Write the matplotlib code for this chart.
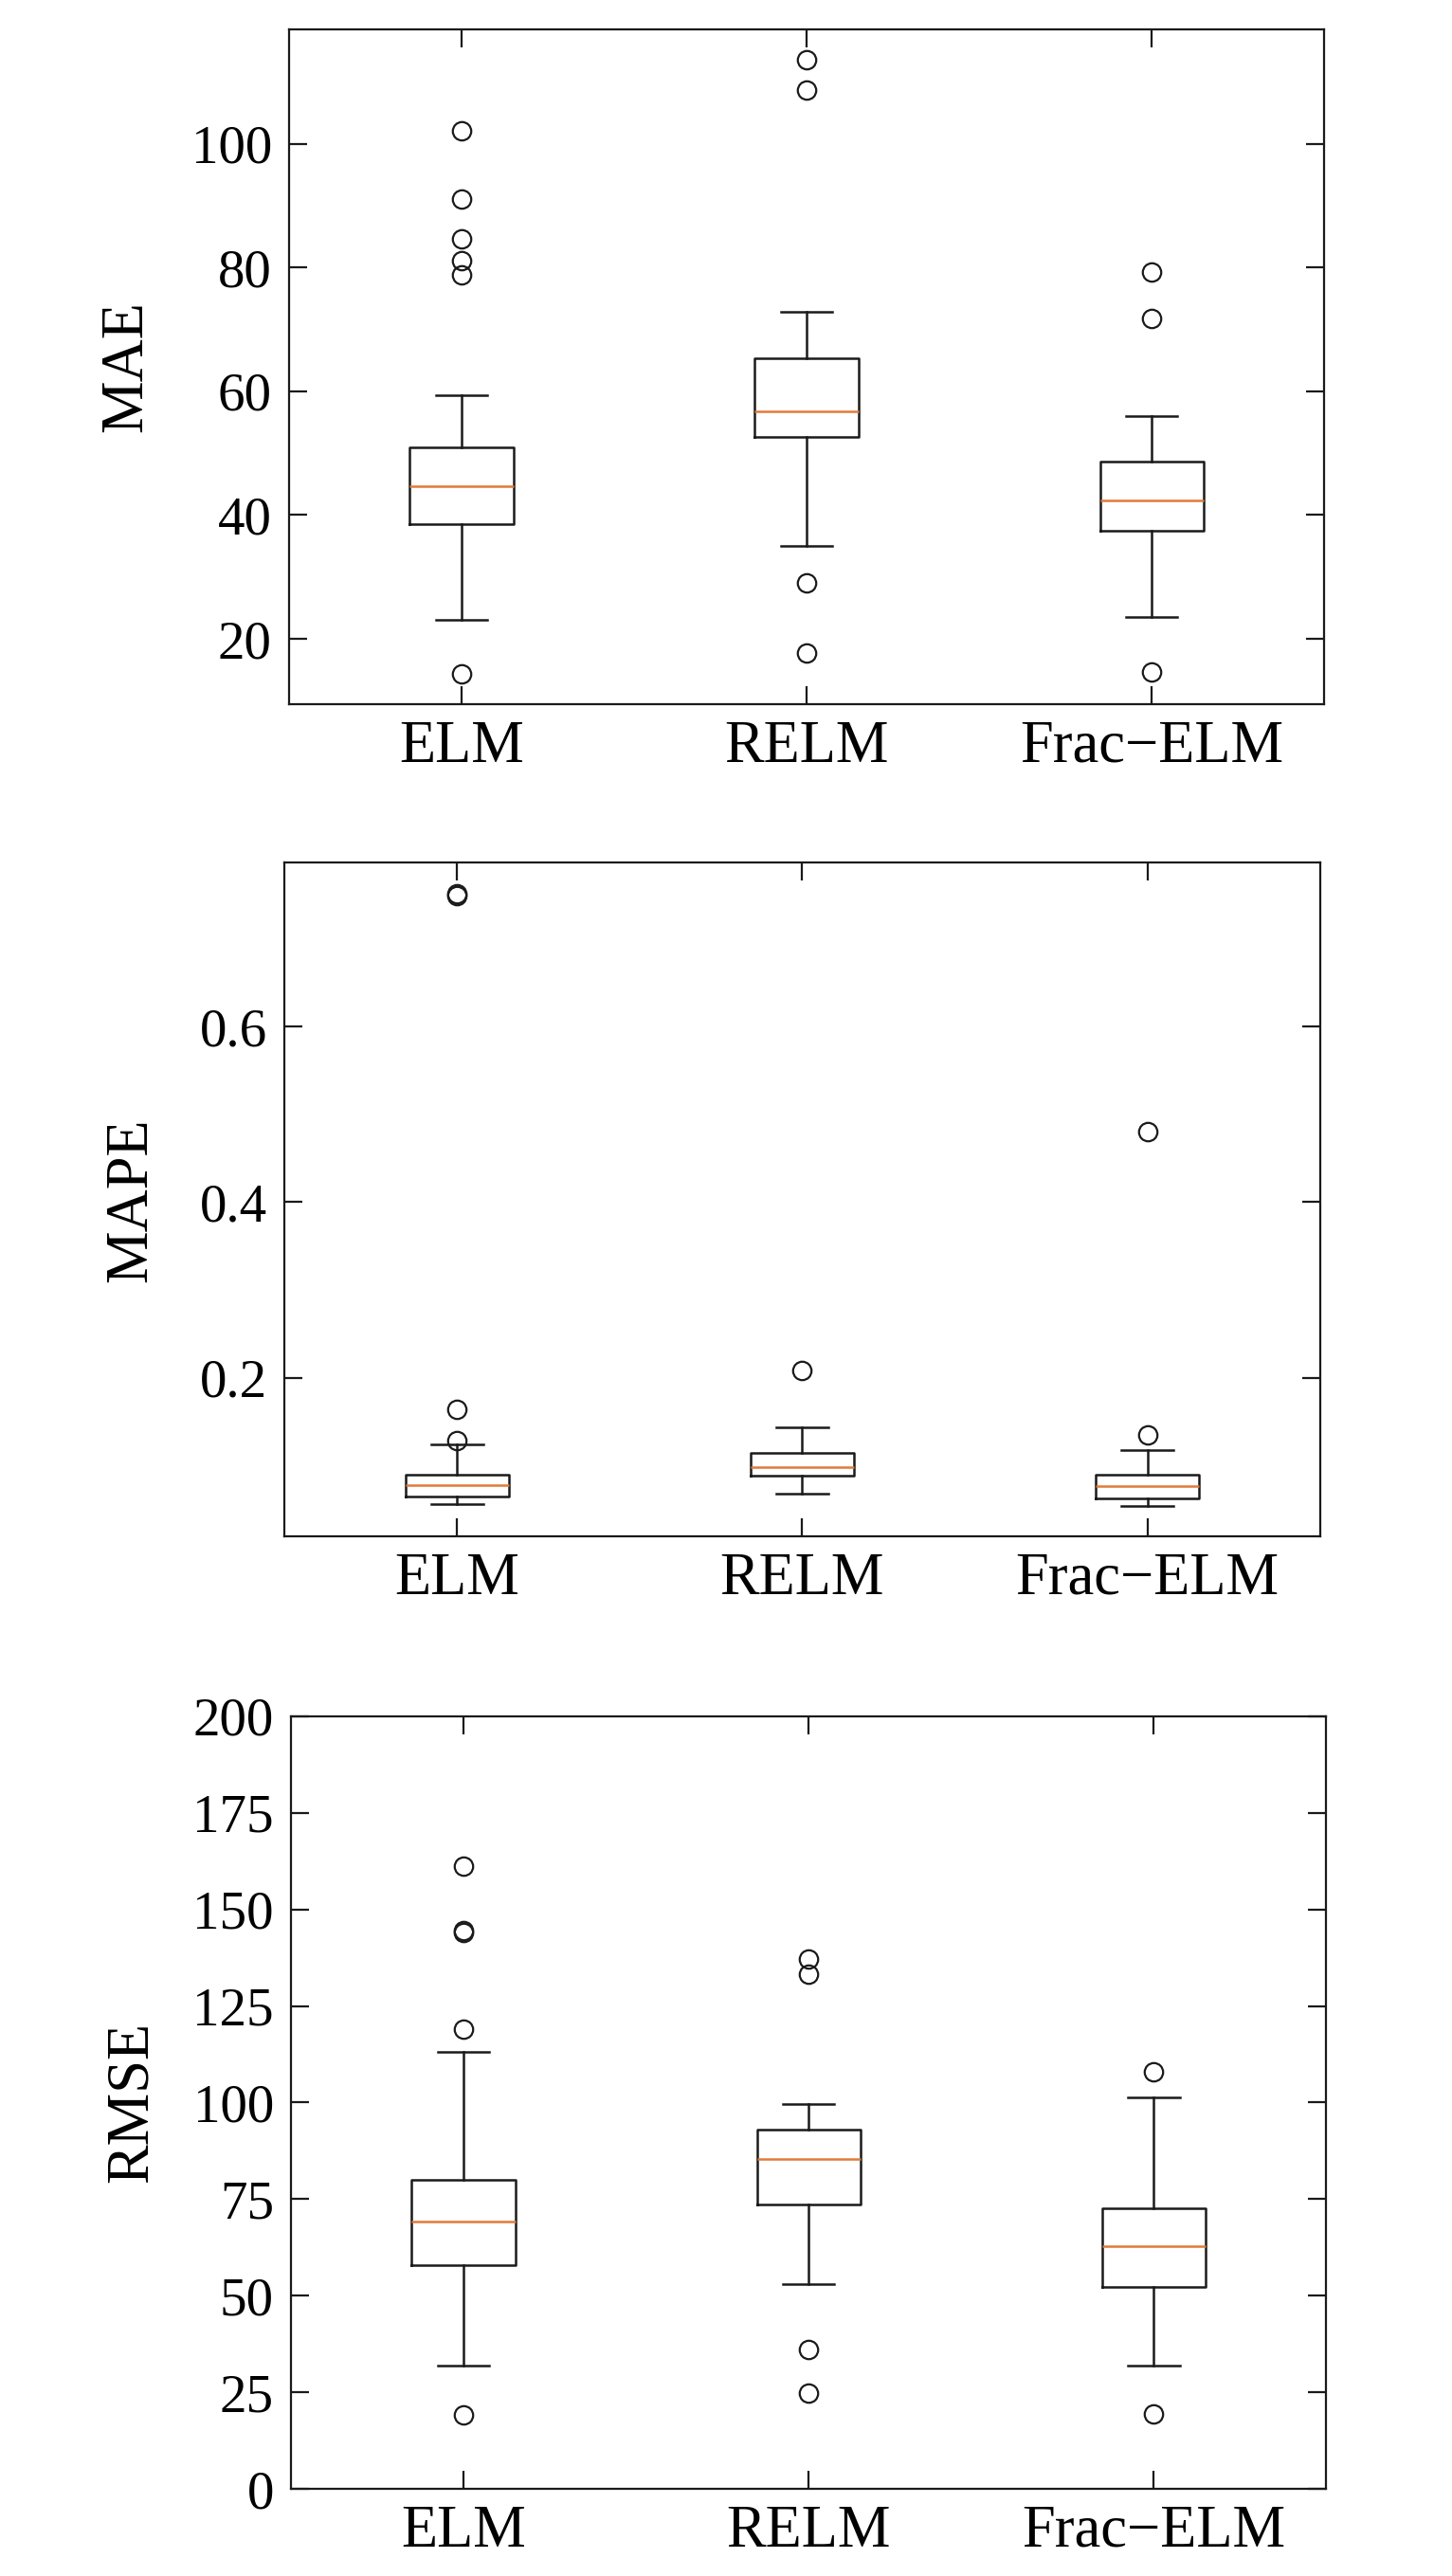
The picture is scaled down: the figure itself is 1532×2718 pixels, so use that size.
import matplotlib
matplotlib.use("Agg")
import matplotlib.pyplot as plt

plt.rcParams['font.family'] = ['Liberation Serif', 'DejaVu Serif']

models = ['ELM', 'RELM', 'Frac\u2212ELM']

# MAE box statistics
mae_whislo = [23.1, 35.0, 23.5]
mae_q1 = [38.6, 52.6, 37.4]
mae_med = [44.6, 56.8, 42.3]
mae_q3 = [50.9, 65.3, 48.6]
mae_whishi = [59.4, 72.9, 56.0]
mae_fliers = [[102.0, 91.1, 84.6, 81.1, 78.8, 14.4],
              [113.5, 108.7, 29.1, 17.7],
              [79.2, 71.8, 14.6]]

# MAPE box statistics
mape_whislo = [0.0556, 0.068, 0.0538]
mape_q1 = [0.0645, 0.0883, 0.0627]
mape_med = [0.0776, 0.0984, 0.0764]
mape_q3 = [0.0895, 0.1138, 0.0889]
mape_whishi = [0.1245, 0.1435, 0.118]
mape_fliers = [[0.752, 0.749, 0.164, 0.1287],
               [0.2077],
               [0.4805, 0.1346]]

# RMSE box statistics
rmse_whislo = [32.0, 52.9, 32.0]
rmse_q1 = [57.8, 73.5, 52.2]
rmse_med = [69.2, 85.4, 62.9]
rmse_q3 = [80.1, 92.9, 72.6]
rmse_whishi = [113.2, 99.6, 101.4]
rmse_fliers = [[161.1, 144.4, 144.0, 119.0, 19.25],
               [137.1, 133.1, 36.1, 24.7],
               [107.9, 19.4]]


def make_stats(whislo, q1, med, q3, whishi, fliers):
    stats = []
    for i in range(len(models)):
        stats.append(dict(whislo=whislo[i], q1=q1[i], med=med[i], q3=q3[i],
                          whishi=whishi[i], fliers=fliers[i], label=models[i]))
    return stats


panels = [
    ('MAE', make_stats(mae_whislo, mae_q1, mae_med, mae_q3, mae_whishi, mae_fliers),
     [20, 40, 60, 80, 100], None, [0.199, 0.7266, 0.713, 0.262], -0.130),
    ('MAPE', make_stats(mape_whislo, mape_q1, mape_med, mape_q3, mape_whishi, mape_fliers),
     [0.2, 0.4, 0.6], None, [0.196, 0.4035, 0.713, 0.2616], -0.121),
    ('RMSE', make_stats(rmse_whislo, rmse_q1, rmse_med, rmse_q3, rmse_whishi, rmse_fliers),
     [0, 25, 50, 75, 100, 125, 150, 175, 200], (0, 200), [0.2004, 0.0338, 0.713, 0.300], -0.127),
]

fig = plt.figure(figsize=(15.32, 27.18), dpi=100)

for name, stats, yticks, ylim, rect, labx in panels:
    ax = fig.add_axes(rect)
    ax.bxp(stats, widths=0.3,
           boxprops=dict(linewidth=1.8, color='#1a1a1a'),
           whiskerprops=dict(linewidth=1.8, color='#1a1a1a'),
           capprops=dict(linewidth=1.8, color='#1a1a1a'),
           medianprops=dict(linewidth=1.8, color='#e07b39'),
           flierprops=dict(marker='o', markersize=14, markerfacecolor='none',
                           markeredgecolor='#1a1a1a', markeredgewidth=1.6))
    ax.set_yticks(yticks)
    if ylim is not None:
        ax.set_ylim(*ylim)
    ax.set_xlim(0.5, 3.5)
    ax.tick_params(axis='both', direction='in', top=True, right=True,
                   length=14, width=1.6, color='#1a1a1a')
    ax.tick_params(axis='y', labelsize=41, pad=13)
    ax.tick_params(axis='x', labelsize=45, pad=12)
    for s in ax.spines.values():
        s.set_linewidth(1.6)
        s.set_color('#1a1a1a')
    ax.set_ylabel(name, fontsize=45)
    ax.yaxis.set_label_coords(labx, 0.5)

fig.savefig('out.png', dpi=100)
